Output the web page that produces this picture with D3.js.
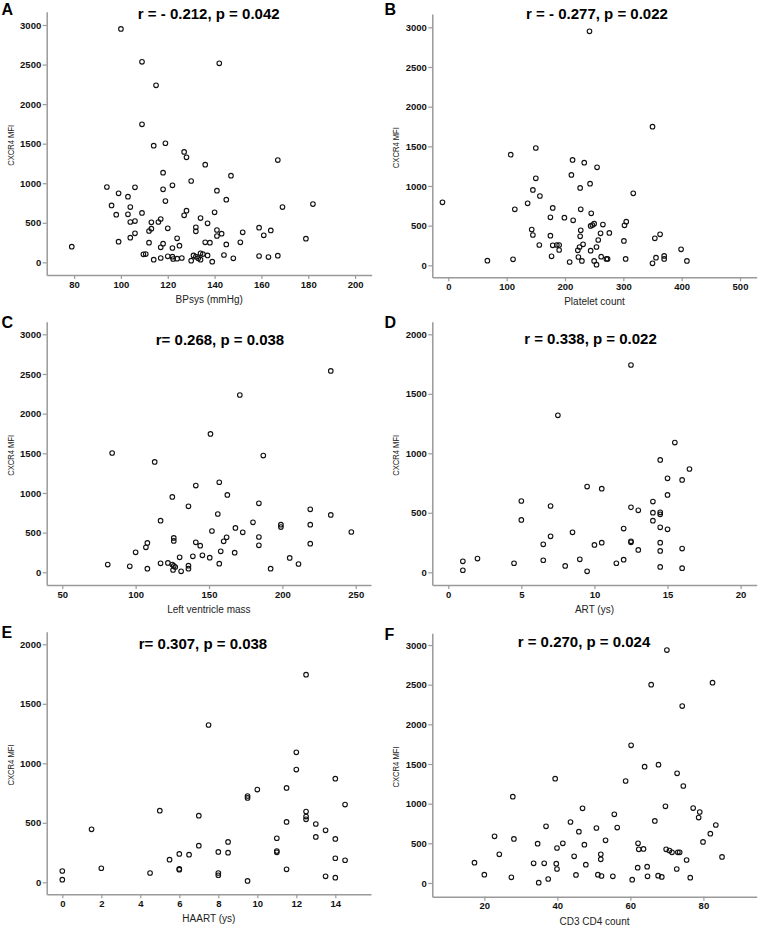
<!DOCTYPE html>
<html>
<head>
<meta charset="utf-8">
<script src="https://cdn.jsdelivr.net/npm/d3@7"></script>
<style>
  html, body { margin: 0; padding: 0; background: #fff; }
  svg { display: block; }
  text { font-family: "Liberation Sans", Arial, sans-serif; }
</style>
</head>
<body>
<svg id="chart" width="760" height="932"></svg>
<script>
// ---------------- DATA ----------------
const yLabel = "CXCR4 MFI";
const panelLetters = ["A", "B", "C", "D", "E", "F"];
const titles = [
  "r = - 0.212, p = 0.042",
  "r = - 0.277, p = 0.022",
  "r= 0.268, p = 0.038",
  "r = 0.338, p = 0.022",
  "r= 0.307, p = 0.038",
  "r = 0.270, p = 0.024"
];
const xLabels = ["BPsys (mmHg)", "Platelet count", "Left ventricle mass", "ART (ys)", "HAART (ys)", "CD3 CD4 count"];

const xTicksA = [80, 100, 120, 140, 160, 180, 200];
const xTicksB = [0, 100, 200, 300, 400, 500];
const xTicksC = [50, 100, 150, 200, 250];
const xTicksD = [0, 5, 10, 15, 20];
const xTicksE = [0, 2, 4, 6, 8, 10, 12, 14];
const xTicksF = [20, 40, 60, 80];
const yTicks3000 = [0, 500, 1000, 1500, 2000, 2500, 3000];
const yTicks2000 = [0, 500, 1000, 1500, 2000];

// [x, CXCR4 MFI]
const pointsA = [
  [100,2950],[109,2535],[115,2237],[109,1745],[114,1475],[119,1505],[127,1395],[128,1327],[118,1133],[130,1028],
  [122,973],[118,923],[94,952],[106,948],[99,872],[103,830],[119,775],[96,720],[104,699],[98,602],[103,607],
  [109,624],[128,653],[127,594],[104,510],[106,522],[113,506],[116,510],[117,548],[113,426],[112,396],[120,430],
  [106,367],[104,312],[99,261],[112,249],[118,236],[117,190],[124,303],[125,211],[122,181],[79,198],[109.6,101],
  [110.6,105],[114,34],[117,55],[120,76],[122,72],[122.3,42],[124,46],[126,55],[130,21],
  [142,2515],[167,1293],[136,1234],[147,1095],[141,906],[145,792],[169,699],[182,737],[140,632],[134,560],
  [137,493],[132,442],[132,392],[141,409],[141,333],[143,362],[152,379],[159,438],[161,341],[164,404],[136,253],
  [138,249],[145,227],[151,253],[179,299],[134,114],[135,105],[131,88],[132,72],[133,51],[134,34],[137,88],
  [139,8],[144,93],[148,51],[159,80],[163,67],[167,84]
];
const pointsB = [
  [-10,794],[67,59],[111,76],[107,1395],[150,1479],[213,1328],[211,1139],[150,1097],[145,950],[157,874],
  [136,782],[114,706],[179,723],[175,605],[199,601],[214,567],[143,450],[145,382],[175,374],[156,256],
  [179,252],[186,256],[190,256],[190,193],[177,113],[208,42],
  [242,2950],[350,1748],[233,1294],[255,1235],[243,1029],[226,975],[317,908],[227,706],[245,655],[244,496],
  [247,508],[250,525],[265,513],[305,550],[302,504],[227,441],[226,366],[261,403],[276,408],[257,319],
  [231,265],[225,231],[254,231],[222,189],[244,185],[301,307],[354,340],[363,391],[399,202],[223,105],
  [229,55],[250,55],[254,8],[262,109],[271,80],[273,80],[304,80],[350,25],[356,97],[370,118],[370,80],[409,55]
];
const pointsC = [
  [84,1504],[113,1391],[141,1093],[125,950],[136,832],[117,651],[126,433],[126,395],[108,370],[107,315],
  [100,252],[141,378],[139,202],[130,189],[81,97],[96,76],[108,46],[117,113],[122,118],[125,97],[126,80],
  [127,67],[125.5,29],[131,13],[136,84],[136,46],
  [233,2538],[171,2235],[151,1744],[187,1471],[157,1135],[162.5,975],[184,870],[156,735],[219,794],[233,723],
  [180,630],[199,600],[199,570],[219,601],[152,521],[168,559],[173,504],[247,508],[162,441],[160,391],
  [144,336],[184,445],[184,340],[219,361],[145.5,214],[150.5,185],[158,265],[167.5,248],[157,109],[205,181],
  [211,105],[192,46]
];
const pointsD = [
  [7.5,1319],[5,599],[7,557],[5,440],[8.5,336],[7,302],[6.5,235],[1,92],[1,17],[2,115],[4.5,76],[6.5,101],
  [8,53],[9,109],
  [12.5,1742],[15.5,1090],[14.5,944],[16.5,868],[15,790],[16,776],[9.5,720],[10.5,703],[15,650],[14,594],
  [12.5,546],[13,521],[14,501],[14.5,504],[14.5,487],[14,434],[12,367],[14.5,378],[15,361],[10,230],
  [10.5,249],[12.5,260],[12.5,252],[13,188],[14.5,249],[14.5,179],[16,199],[11.5,76],[12,106],[9.5,8],
  [14.5,45],[16,34]
];
const pointsE = [
  [5,602],[1.5,445],[0,95],[0,22],[2,118],[4.5,78],[5.5,190],[6,238],[6.5,232],[6,112],[6,106],[7,560],[7,308],
  [12.5,1745],[7.5,1322],[12,1092],[12,947],[14,871],[10,779],[9.5,725],[9.5,709],[11.5,793],[14.5,653],
  [12.5,594],[12.5,552],[12.5,529],[11.5,507],[13,490],[13.5,437],[11,370],[13,381],[14,364],[8.5,339],
  [8,255],[8.5,249],[11,263],[11,252],[8,78],[8,59],[9.5,11],[11.5,109],[14,202],[14.5,185],[13.5,50],[14,39]
];
const pointsF = [
  [39.4,1315],[27.8,1088],[43.6,769],[36.9,714],[22.8,588],[28.1,555],[34.6,496],[41.5,500],[39.9,441],
  [24.1,361],[44.6,336],[17.3,256],[33.5,248],[36.4,248],[39.7,244],[39.9,176],[20,105],[27.4,71],[34.9,4],
  [37.5,50],[45.1,101],
  [70,2937],[65.7,2500],[82.5,2525],[74.2,2231],[60.2,1735],[63.9,1466],[67.7,1492],[72.8,1382],[74.5,1223],
  [58.7,1286],[46.9,941],[69.6,966],[77.2,945],[79,895],[78.7,824],[55.6,866],[66.7,782],[83.4,731],
  [45.9,647],[50.7,693],[56.4,698],[81.9,622],[47.4,483],[53.2,538],[79.9,517],[62.1,500],[62.3,424],
  [63.6,429],[51.9,361],[51.9,298],[69.8,424],[70.7,408],[71.4,387],[73,387],[73.5,387],[85.1,328],
  [75.4,290],[47.8,231],[62,193],[64.6,206],[72.7,176],[51.1,105],[52.1,88],[55.2,84],[60.5,42],[64.7,84],
  [67.6,92],[68.6,76],[76.4,67]
];

// axis extents (data units)
const xDomains = [[68.3, 207.1], [-27.4, 528.6], [39.4, 260.4], [-1.09, 21.1], [-0.8, 15.83], [5.75, 94.6]];
const yDomains = [[-160, 3168], [-151, 3168], [-160, 3159], [-107, 2106], [-101, 2106], [-173, 3148]];

// ---------------- LAYOUT ----------------
const boxes = [
  {l: 46.7,  r: 371.7, t: 11.7,  b: 275,   tx: 208.7, ty: 18.5, lx: 1.5, ly: 15},
  {l: 432.3, r: 756.7, t: 14,    b: 277.3, tx: 597,   ty: 18.5, lx: 384.5, ly: 15},
  {l: 46.7,  r: 371,   t: 321.7, b: 585,   tx: 220,   ty: 345, lx: 1.5, ly: 328},
  {l: 432.3, r: 756.7, t: 321.7, b: 585,   tx: 590.5, ty: 344, lx: 384.5, ly: 328},
  {l: 46.7,  r: 371,   t: 631.7, b: 894.3, tx: 203,   ty: 649, lx: 1.5, ly: 638},
  {l: 432.3, r: 756.7, t: 633.3, b: 896.7, tx: 584,   ty: 647, lx: 384.5, ly: 640}
];

const panels = [
  {pts: pointsA, xt: xTicksA, yt: yTicks3000},
  {pts: pointsB, xt: xTicksB, yt: yTicks3000},
  {pts: pointsC, xt: xTicksC, yt: yTicks3000},
  {pts: pointsD, xt: xTicksD, yt: yTicks2000},
  {pts: pointsE, xt: xTicksE, yt: yTicks2000},
  {pts: pointsF, xt: xTicksF, yt: yTicks3000}
];

const svg = d3.select("#chart");
const axisColor = "#9a9a9a";

panels.forEach((p, i) => {
  const bx = boxes[i];
  const x = d3.scaleLinear().domain(xDomains[i]).range([bx.l, bx.r]);
  const y = d3.scaleLinear().domain(yDomains[i]).range([bx.b, bx.t]);
  const g = svg.append("g");

  // x axis
  const gx = g.append("g").attr("transform", `translate(0,${bx.b})`)
    .call(d3.axisBottom(x).tickValues(p.xt).tickFormat(d3.format("d")).tickSize(4).tickPadding(2).tickSizeOuter(0));
  // y axis
  const gy = g.append("g").attr("transform", `translate(${bx.l},0)`)
    .call(d3.axisLeft(y).tickValues(p.yt).tickFormat(d3.format("d")).tickSize(4).tickPadding(1.5).tickSizeOuter(0));

  [gx, gy].forEach(a => {
    a.select(".domain").attr("stroke", axisColor).attr("stroke-width", 1.5);
    a.selectAll(".tick line").attr("stroke", axisColor).attr("stroke-width", 1.2);
    a.selectAll(".tick text").attr("fill", "#111").attr("font-weight", "bold")
      .attr("font-size", 9.5).attr("font-family", "'Liberation Sans', Arial, sans-serif");
  });

  // points
  g.append("g").selectAll("circle").data(p.pts).join("circle")
    .attr("cx", d => x(d[0])).attr("cy", d => y(d[1]))
    .attr("r", 2.3).attr("fill", "none").attr("stroke", "#111").attr("stroke-width", 1.1);

  // title
  g.append("text").attr("x", bx.tx).attr("y", bx.ty).attr("text-anchor", "middle")
    .attr("font-size", 15).attr("font-weight", "bold").attr("fill", "#000").text(titles[i]);

  // panel letter
  g.append("text").attr("x", bx.lx).attr("y", bx.ly)
    .attr("font-size", 16).attr("font-weight", "bold").attr("fill", "#000").text(panelLetters[i]);

  // y label
  const ymid = (bx.t + bx.b) / 2 + 2;
  const ylx = bx.l - 33;
  g.append("text").attr("transform", `translate(${ylx},${ymid}) rotate(-90)`)
    .attr("text-anchor", "middle").attr("font-size", 9)
    .attr("textLength", 41).attr("lengthAdjust", "spacingAndGlyphs")
    .attr("fill", "#222").text(yLabel);

  // x label
  g.append("text").attr("x", (bx.l + bx.r) / 2).attr("y", bx.b + 28)
    .attr("text-anchor", "middle").attr("font-size", 10).attr("fill", "#222").text(xLabels[i]);
});
</script>
</body>
</html>
